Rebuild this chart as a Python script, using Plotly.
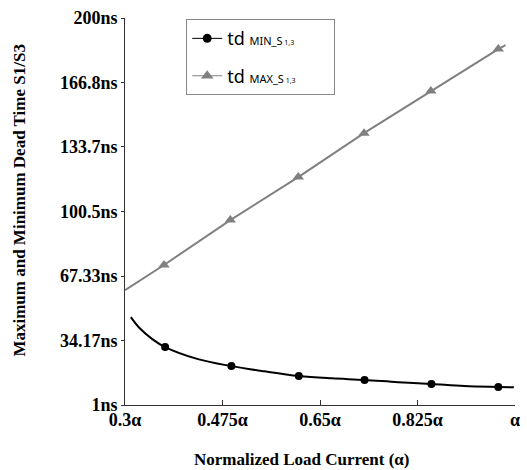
import plotly.graph_objects as go

# ---- data ----
alpha_max_line = [0.300, 0.370, 0.489, 0.611, 0.729, 0.849, 0.970, 0.983]
td_max_line = [60.1, 73.0, 96.1, 118.2, 140.8, 162.4, 184.0, 186.0]
alpha_max_mark = [0.370, 0.489, 0.611, 0.729, 0.849, 0.970]
td_max_mark = [73.0, 96.1, 118.2, 140.8, 162.4, 184.0]

alpha_min_line = [0.3105, 0.326, 0.349, 0.372, 0.431, 0.491, 0.550, 0.612,
                  0.671, 0.730, 0.790, 0.850, 0.909, 0.970, 0.998]
td_min_line = [46.2, 40.6, 34.9, 30.8, 24.6, 21.0, 18.3, 15.9,
               14.7, 13.9, 12.7, 11.8, 10.8, 10.3, 10.1]
alpha_min_mark = [0.372, 0.491, 0.612, 0.730, 0.850, 0.970]
td_min_mark = [30.8, 21.0, 15.9, 13.9, 11.8, 10.3]

x_tick_vals = [0.3, 0.475, 0.65, 0.825, 1.0]
x_tick_text = ["0.3α", "0.475α", "0.65α", "0.825α", "α"]
y_tick_vals = [1, 34.17, 67.33, 100.5, 133.7, 166.8, 200]
y_tick_text = ["1ns", "34.17ns", "67.33ns", "100.5ns", "133.7ns", "166.8ns", "200ns"]

pad = "&nbsp;" * 7
name_min = "td <span style='font-size:11px'>MIN_S</span><span style='font-size:7px'> 1,3</span>" + pad
name_max = "td <span style='font-size:11px'>MAX_S</span><span style='font-size:7px'> 1,3</span>" + pad

BLACK = "#000000"
GRAY = "#808080"

fig = go.Figure()
fig.add_trace(go.Scatter(x=alpha_min_line, y=td_min_line, mode="lines",
                         line=dict(color=BLACK, width=2, shape="spline"),
                         showlegend=False, hoverinfo="skip"))
fig.add_trace(go.Scatter(x=alpha_min_mark, y=td_min_mark, mode="markers",
                         marker=dict(color=BLACK, size=8, symbol="circle"),
                         showlegend=False))
fig.add_trace(go.Scatter(x=alpha_max_line, y=td_max_line, mode="lines",
                         line=dict(color=GRAY, width=2),
                         showlegend=False, hoverinfo="skip"))
fig.add_trace(go.Scatter(x=alpha_max_mark, y=td_max_mark, mode="markers",
                         marker=dict(color=GRAY, size=10, symbol="triangle-up"),
                         showlegend=False))
fig.add_trace(go.Scatter(x=[None], y=[None], mode="lines+markers", name=name_min,
                         line=dict(color=BLACK, width=1),
                         marker=dict(color=BLACK, size=9, symbol="circle"),
                         legendgroup="a"))
fig.add_trace(go.Scatter(x=[None], y=[None], mode="lines+markers", name=name_max,
                         line=dict(color=GRAY, width=1),
                         marker=dict(color=GRAY, size=11, symbol="triangle-up"),
                         legendgroup="b"))

serif = "Liberation Serif"
tick_font = dict(family=serif, size=18, color="black", weight="bold")
fig.update_layout(
    width=527, height=470,
    margin=dict(l=125, r=7, t=18, b=65),
    plot_bgcolor="white", paper_bgcolor="white",
    font=dict(family=serif, color="black"),
    showlegend=True,
    legend=dict(x=0.157, y=0.997, xanchor="left", yanchor="top",
                bordercolor="#888888", borderwidth=1, bgcolor="white",
                font=dict(family="Noto Sans", size=18, color="black"),
                traceorder="grouped", tracegroupgap=11),
    xaxis=dict(range=[0.3, 1.0], tickvals=x_tick_vals, ticktext=x_tick_text,
               showgrid=False, zeroline=False, showline=True, linecolor="#333333",
               linewidth=1, ticks="inside", ticklen=5, tickcolor="#333333",
               tickfont=tick_font, ticklabelstandoff=-2, ticklabeloverflow="allow"),
    yaxis=dict(range=[1, 200], tickvals=y_tick_vals, ticktext=y_tick_text,
               showgrid=False, zeroline=False, showline=True, linecolor="#333333",
               linewidth=1, ticks="outside", ticklen=3, tickcolor="#333333",
               tickfont=tick_font),
)
fig.add_annotation(text="Maximum and Minimum Dead Time S1/S3", xref="paper", yref="paper",
                   x=-0.27, y=0.53, xanchor="center", yanchor="middle", textangle=-90,
                   showarrow=False,
                   font=dict(family=serif, size=17, color="black", weight="bold"))
fig.add_annotation(text="Normalized Load Current (α)", xref="paper", yref="paper",
                   x=0.455, y=-0.142, xanchor="center", yanchor="middle", showarrow=False,
                   font=dict(family=serif, size=17, color="black", weight="bold"))

fig.write_html("out.html")
